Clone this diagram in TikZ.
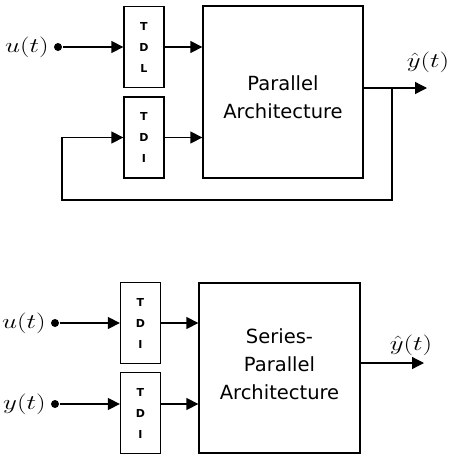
\documentclass[tikz,border=0pt]{standalone}
\usepackage{amsmath}
\usepackage{fontspec}
\setsansfont{DejaVu Sans}
\usetikzlibrary{arrows.meta,positioning}
\newcommand{\sigtext}[1]{\scalebox{1.3}[1]{$#1$}}

\begin{document}
\begin{tikzpicture}[x=1pt, y=-1pt, line width=1.3pt,
    tdlbox/.style={draw, rectangle, minimum width=40pt, minimum height=81pt, inner sep=0pt,
      align=center, font=\sffamily\bfseries\fontsize{11}{21}\selectfont},
    archbox/.style={draw, rectangle, inner sep=0pt},
    archtext/.style={inner sep=0pt, align=center, font=\sffamily\fontsize{19.5}{28}\selectfont},
    sig/.style={inner sep=0pt, font=\fontsize{20}{22}\selectfont},
    dot/.style={circle, fill, inner sep=0pt, minimum size=8pt},
    arr/.style={-{Triangle[length=12pt,width=12pt]}}]
    \useasboundingbox (0,0) rectangle (451,456);
    % parallel architecture
    \node[tdlbox] (tdl) at (144,47) {T\\D\\L};
    \node[tdlbox] (tdia) at (144,137.5) {T\\D\\I};
    \node[archbox, minimum width=160pt, minimum height=172pt] (par) at (283,92) {};
    \node[archtext] (partext) at (283,97) {Parallel\\Architecture};
    \node[dot] (ua) at (58,47) {};
    \node[sig, left=4pt of ua] (ualab) {\sigtext{u(t)}};
    \coordinate (juncta) at (392,88);
    \coordinate (outa) at (427,88);
    \coordinate (fba) at (62,200);
    \node[sig] (yhata) at (428,62) {\sigtext{\hat{y}(t)}};
    \draw[arr] (ua) -- (tdl.west);
    \draw[arr] (tdl.east) -- (tdl.east -| par.west);
    \draw[arr] (tdia.east) -- (tdia.east -| par.west);
    \draw[arr] (par.east |- outa) -- (outa);
    \draw[arr] (juncta) |- (fba) |- (tdia.west);
    % series-parallel architecture
    \node[tdlbox] (tdib) at (140.5,323) {T\\D\\I};
    \node[tdlbox] (tdic) at (140.5,413) {T\\D\\I};
    \node[archbox, minimum width=161pt, minimum height=170pt] (ser) at (279.5,368) {};
    \node[archtext] (sertext) at (279.5,364) {Series-\\Parallel\\Architecture};
    \node[dot] (ub) at (55,323) {};
    \node[dot] (yb) at (55,404) {};
    \node[sig, left=4pt of ub] (ublab) {\sigtext{u(t)}};
    \node[sig, left=4pt of yb] (yblab) {\sigtext{y(t)}};
    \coordinate (outb) at (424,363);
    \node[sig] (yhatb) at (411,345) {\sigtext{\hat{y}(t)}};
    \draw[arr] (ub) -- (tdib.west);
    \draw[arr] (yb) -- (tdic.west |- yb);
    \draw[arr] (tdib.east) -- (tdib.east -| ser.west);
    \draw[arr] (tdic.east |- yb) -- (yb -| ser.west);
    \draw[arr] (ser.east |- outb) -- (outb);
\end{tikzpicture}
\end{document}
